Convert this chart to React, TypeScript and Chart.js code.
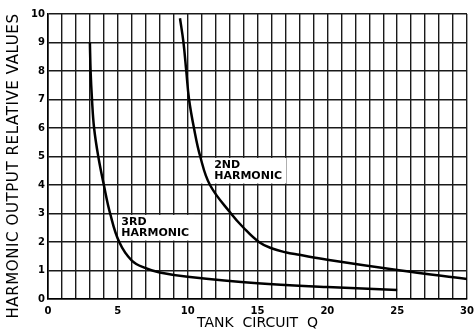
import React, { useEffect, useRef } from "react";
import { Chart, registerables } from "chart.js";

Chart.register(...registerables);

const thirdQ = [3, 3.05, 3.15, 3.3, 3.6, 4.0, 4.45, 5.1, 6, 7, 8, 10, 15, 20, 25];
const thirdVal = [9, 8, 7, 6, 5, 4, 3, 2, 1.35, 1.08, 0.93, 0.78, 0.55, 0.42, 0.32];
const secondQ = [9.45, 9.7, 9.9, 10.1, 10.45, 10.9, 11.6, 13.1, 14, 15.1, 16, 17, 18, 20, 25, 30];
const secondVal = [9.85, 9, 8, 7, 6, 5, 4, 3, 2.5, 2, 1.78, 1.64, 1.55, 1.38, 1.02, 0.7];
const xTickLabels = ["0", "5", "10", "15", "20", "25", "30"];
const yTickLabels = ["0", "1", "2", "3", "4", "5", "6", "7", "8", "9", "10"];
const yTitle = "HARMONIC OUTPUT RELATIVE VALUES";
const xTitle = "TANK  CIRCUIT  Q";

const curveLabels = [
  { lines: ["2ND", "HARMONIC"], tx: 11.9, ty: [4.7, 4.3], box: [10.85, 17.05, 4.05, 4.95] },
  { lines: ["3RD", "HARMONIC"], tx: 5.25, ty: [2.7, 2.31], box: [5.0, 10.5, 2.05, 2.95] },
];

const FONT = "'DejaVu Sans', sans-serif";

const labelPlugin = {
  id: "curveLabels",
  beforeDatasetsDraw(chart: any) {
    const { ctx, scales } = chart;
    const xs = scales.x;
    const ys = scales.y;
    ctx.save();
    for (const l of curveLabels) {
      const x0 = xs.getPixelForValue(l.box[0]);
      const x1 = xs.getPixelForValue(l.box[1]);
      const y0 = ys.getPixelForValue(l.box[3]);
      const y1 = ys.getPixelForValue(l.box[2]);
      ctx.fillStyle = "#ffffff";
      ctx.fillRect(x0, y0, x1 - x0, y1 - y0);
      ctx.fillStyle = "#000000";
      ctx.font = `bold 11px ${FONT}`;
      ctx.textBaseline = "middle";
      ctx.textAlign = "left";
      l.lines.forEach((t, i) => {
        ctx.fillText(t, xs.getPixelForValue(l.tx), ys.getPixelForValue(l.ty[i]));
      });
    }
    ctx.restore();
  },
  afterDraw(chart: any) {
    const { ctx } = chart;
    ctx.save();
    ctx.fillStyle = "#000";
    ctx.font = `15px ${FONT}`;
    ctx.textAlign = "center";
    ctx.textBaseline = "middle";
    try { (ctx as any).letterSpacing = "0.6px"; } catch (e) {}
    ctx.translate(14, chart.height / 2);
    ctx.rotate(-Math.PI / 2);
    ctx.fillText(yTitle, 0, 0);
    ctx.restore();
  },
};

export default function App() {
  const ref = useRef<HTMLCanvasElement>(null);
  useEffect(() => {
    if (!ref.current) return;
    const chart = new Chart(ref.current, {
      type: "scatter",
      data: {
        datasets: [
          {
            label: "3RD HARMONIC",
            data: thirdQ.map((q, i) => ({ x: q, y: thirdVal[i] })),
            showLine: true,
            borderColor: "#000",
            borderWidth: 2.5,
            pointRadius: 0,
            tension: 0.4,
          },
          {
            label: "2ND HARMONIC",
            data: secondQ.map((q, i) => ({ x: q, y: secondVal[i] })),
            showLine: true,
            borderColor: "#000",
            borderWidth: 2.5,
            pointRadius: 0,
            tension: 0.4,
          },
        ],
      },
      options: {
        responsive: false,
        animation: false,
        layout: { padding: { top: 14, right: 8, left: 0, bottom: 0 } },
        plugins: { legend: { display: false }, tooltip: { enabled: false } },
        scales: {
          x: {
            type: "linear",
            min: 0,
            max: 30,
            afterFit: (s: any) => { s.height = 33; s.paddingLeft = 0; s.paddingRight = 0; },
            ticks: {
              stepSize: 1,
              autoSkip: false,
              maxRotation: 0,
              padding: 6,
              color: "#000",
              font: { family: FONT, size: 10, weight: "bold" },
              callback: (v: any) => (Number(v) % 5 === 0 ? xTickLabels[Number(v) / 5] : ""),
            },
            grid: { color: "#1a1a1a", lineWidth: 1.4, drawTicks: false },
            border: { color: "#000", width: 1.6 },
            title: {
              display: true,
              text: xTitle,
              color: "#000",
              font: { family: FONT, size: 14 },
              padding: { top: 0, bottom: 0 },
            },
          },
          y: {
            type: "linear",
            min: 0,
            max: 10,
            afterFit: (s: any) => { s.width = 48; s.paddingTop = 0; s.paddingBottom = 0; },
            ticks: {
              stepSize: 1,
              autoSkip: false,
              padding: 3,
              color: "#000",
              font: { family: FONT, size: 10, weight: "bold" },
              callback: (v: any) => yTickLabels[Number(v)] ?? "",
            },
            grid: { color: "#1a1a1a", lineWidth: 1.4, drawTicks: false },
            border: { color: "#000", width: 1.6 },
            title: { display: false },
          },
        },
      },
      plugins: [labelPlugin],
    } as any);
    return () => chart.destroy();
  }, []);
  return (
    <div style={{ position: "absolute", left: 0, top: 0, width: 475, height: 332, background: "#fff" }}>
      <canvas ref={ref} width={475} height={332} />
    </div>
  );
}
